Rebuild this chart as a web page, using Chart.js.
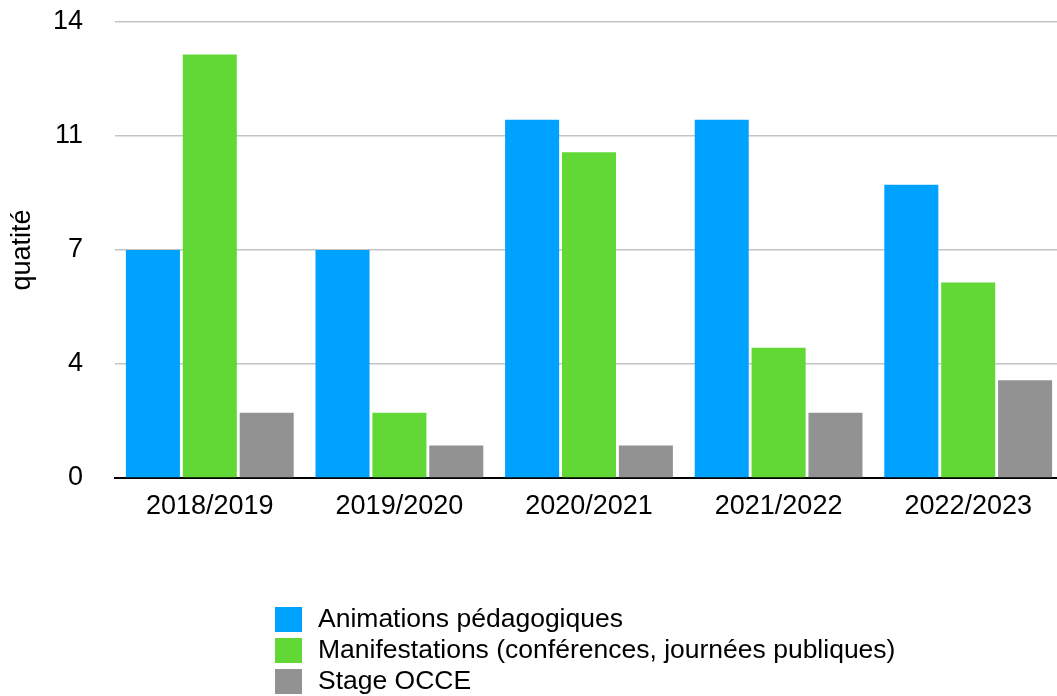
<!DOCTYPE html>
<html>
<head>
<meta charset="utf-8">
<title>quatité</title>
<script src="https://cdn.jsdelivr.net/npm/chart.js@4.4.1/dist/chart.umd.min.js"></script>
<style>
    html, body { margin: 0; padding: 0; background: #fff; overflow: hidden; }
    #wrap { width: 1063px; height: 696px; }
</style>
</head>
<body>
<div id="wrap"><canvas id="chart"></canvas></div>
<script>
// Données
const categories = ['2018/2019', '2019/2020', '2020/2021', '2021/2022', '2022/2023'];
const animations = [7, 7, 11, 11, 9];
const manifestations = [13, 2, 10, 4, 6];
const stage = [2, 1, 1, 2, 3];
const yTicks = [0, 3.5, 7, 10.5, 14];
const seriesNames = ['Animations pédagogiques', 'Manifestations (conférences, journées publiques)', 'Stage OCCE'];
const seriesColors = ['#00a2ff', '#61d836', '#929292'];

Chart.defaults.font.family = '"Liberation Sans", Arial, Helvetica, sans-serif';
Chart.defaults.color = '#000';

// légende en liste verticale sous le graphique
const listLegend = {
    id: 'listLegend',
    afterDraw(chart) {
        const ctx = chart.ctx;
        const x0 = 275, y0 = 607, row = 31;
        ctx.save();
        ctx.font = '26.5px "Liberation Sans", Arial, sans-serif';
        ctx.textBaseline = 'middle';
        chart.data.datasets.forEach((ds, i) => {
            const y = y0 + i * row;
            ctx.fillStyle = ds.backgroundColor;
            ctx.fillRect(x0, y, 27, 25);
            ctx.fillStyle = '#000';
            ctx.fillText(ds.label, 318, y + 13);
        });
        ctx.restore();
    }
};

const ctx = document.getElementById('chart').getContext('2d');
window.myChart = new Chart(ctx, {
    type: 'bar',
    data: {
        labels: categories,
        datasets: [
            { label: seriesNames[0], data: animations, backgroundColor: seriesColors[0] },
            { label: seriesNames[1], data: manifestations, backgroundColor: seriesColors[1] },
            { label: seriesNames[2], data: stage, backgroundColor: seriesColors[2] }
        ]
    },
    options: {
        responsive: true,
        maintainAspectRatio: false,
        animation: false,
        layout: { padding: { top: 22, right: 0, bottom: 174, left: 0 } },
        datasets: { bar: { categoryPercentage: 0.9, barPercentage: 0.95 } },
        plugins: {
            legend: { display: false },
            tooltip: { enabled: false }
        },
        scales: {
            x: {
                afterFit: scale => {
                    scale.height = 44;
                    scale.paddingLeft = 0;
                    scale.paddingRight = 0;
                },
                grid: { display: false, drawTicks: false },
                border: { display: true, color: '#000', width: 2 },
                ticks: { color: '#000', font: { size: 27 }, padding: 12 }
            },
            y: {
                min: 0,
                max: 14,
                afterBuildTicks: scale => { scale.ticks = yTicks.map(v => ({ value: v })); },
                afterFit: scale => {
                    scale.width = 115;
                    scale.paddingTop = 0;
                    scale.paddingBottom = 0;
                },
                grid: { color: '#c4c4c4', lineWidth: 1.5, drawTicks: false },
                border: { display: false },
                ticks: {
                    padding: 32,
                    color: '#000',
                    font: { size: 27 },
                    callback: v => Math.round(v)
                },
                title: {
                    display: true,
                    text: 'quatité',
                    color: '#000',
                    font: { size: 27 },
                    padding: { top: 6, bottom: 0 }
                }
            }
        }
    },
    plugins: [listLegend]
});
</script>
</body>
</html>
